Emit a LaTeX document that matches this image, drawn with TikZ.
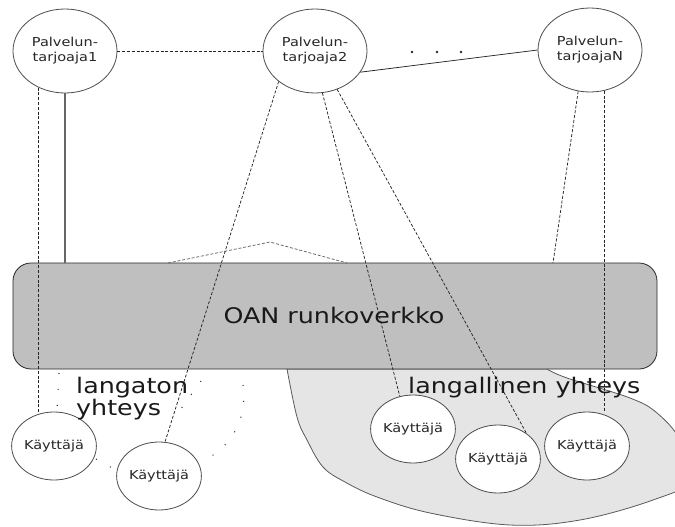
\documentclass[tikz,border=0pt]{standalone}
\usepackage{fontspec}
\setmainfont{DejaVu Sans}[FakeStretch=1.18]
\usetikzlibrary{shapes.geometric}
\tikzset{
  prov/.style={ellipse, draw=black!70, line width=0.8pt, fill=white, minimum width=104pt, minimum height=84pt,
    inner sep=0pt, align=center, text=black!85, font=\fontsize{12.3}{15}\selectfont},
  user/.style={ellipse, draw=black!70, line width=0.8pt, fill=white, minimum width=82pt, minimum height=68pt,
    inner sep=0pt, text=black!85, font=\fontsize{12.3}{14}\selectfont},
  bigtext/.style={inner sep=0pt, text=black!90, font=\fontsize{21.5}{22}\selectfont},
  dsh/.style={draw=black!85, line width=0.75pt, dash pattern=on 3pt off 1.8pt},
  sparse/.style={draw=black!80, line width=1.1pt, dash pattern=on 1pt off 15pt},
}
\begin{document}
\begin{tikzpicture}[x=1pt,y=-1pt]
\useasboundingbox (0,0) rectangle (675,527);
% wired area blob
\begin{scope}
\clip (0,0) rectangle (675,527);
\filldraw[fill=black!10, draw=black!65, line width=0.8pt]
  plot[smooth, tension=0.6] coordinates {(547,369) (567,378) (630,398) (657,413) (680,440)
  (690,480) (653,500) (580,520) (510,525) (430,513) (377,497) (345,482) (323,467) (307,440) (297,417) (287,369)} -- cycle;
\end{scope}
% backbone
\node[draw=black!85, line width=0.8pt, fill=black!25, rounded corners=18pt,
  minimum width=644pt, minimum height=106pt, bigtext] (box) at (335,316) {};
\node[bigtext, anchor=base] (boxlabel) at (334,323) {OAN runkoverkko};
% providers
\node[prov] (P1) at (65,51) {Palvelun-\\tarjoaja1};
\node[prov] (P2) at (315,51) {Palvelun-\\tarjoaja2};
\node[prov] (PN) at (590,50) {Palvelun-\\tarjoajaN};
% users
\node[user] (K1) at (54,446) {Käyttäjä};
\node[user] (K2) at (159,476) {Käyttäjä};
\node[user] (K3) at (413,429) {Käyttäjä};
\node[user] (K4) at (498,459) {Käyttäjä};
\node[user] (K5) at (587,446) {Käyttäjä};
% named free ends on the backbone top
\coordinate (tA) at (168,263);
\coordinate (tB) at (270,242);
\coordinate (tC) at (347,263);
\coordinate (pnb) at (553,263);
% connectors
\draw[dsh] (P1.east) -- (P2.west);
\draw[draw=black!85, line width=0.75pt] (P2.335) -- (PN.west);
\fill[black!85] (412,52) circle (1.4) (437,52) circle (1.4) (461,52) circle (1.4);
\draw[draw=black!60, line width=1.3pt] (P1.south) -- (P1.south |- box.north);
\draw[dsh] (P1.234) -- (P1.234 |- K1.north);
\draw[dsh, draw=black!60] (tA) -- (tB) -- (tC);
\draw[dsh] (P2.220) -- (K2.80);
\draw[dsh] (P2.280) -- (K3.112);
\draw[dsh] (P2.300) -- (K4.42);
\draw[dsh] (PN.254) -- (pnb);
\draw[dsh] (PN.289) -- (PN.289 |- K5.north);
% wireless hints
\draw[sparse] (59,373) -- (57,410);
\draw[sparse] (201,381) -- (178,413);
\draw[sparse] (243,385) .. controls (247,410) and (238,440) .. (210,457);
\draw[sparse] (96,459) -- (114,469);
% labels
\node[bigtext, anchor=base west] (lw) at (76,393) {langaton};
\node[bigtext, anchor=base west] (lw2) at (76,415) {yhteys};
\node[bigtext, anchor=base west] (lf) at (408,393) {langallinen yhteys};
\end{tikzpicture}
\end{document}
